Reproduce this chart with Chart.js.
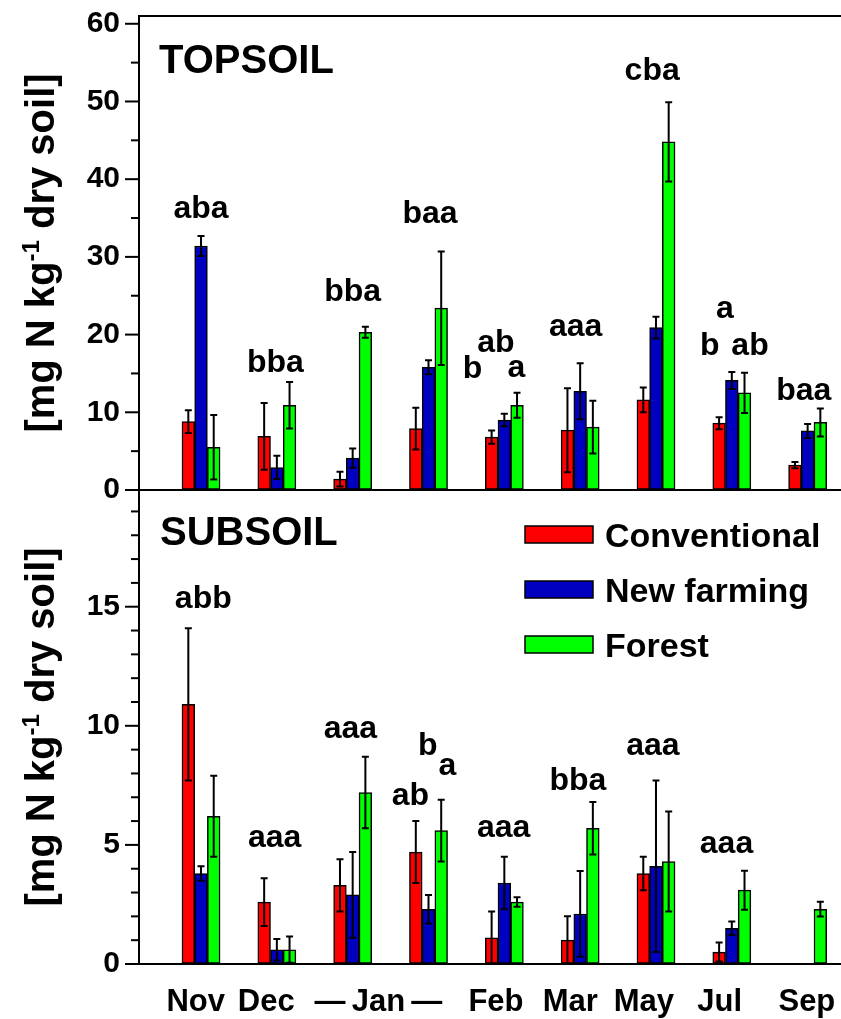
<!DOCTYPE html>
<html>
<head>
<meta charset="utf-8">
<script src="https://cdn.jsdelivr.net/npm/chart.js@4.4.1/dist/chart.umd.min.js"></script>
<style>
  html, body { margin: 0; padding: 0; background: #fff; }
</style>
</head>
<body>
<canvas id="soil-chart" width="841" height="1019"></canvas>
<script>
// categories (group positions) and month labels
const groupPos = [0, 1, 2, 3, 4, 5, 6, 7, 8];
const monthLabels = ['Nov', 'Dec', '\u2014\u2009Jan\u2009\u2014', 'Feb', 'Mar', 'May', 'Jul', 'Sep'];
const monthTickPos = [-0.07, 0.86, 2.34, 3.89, 4.87, 5.84, 6.84, 7.99];

const seriesNames = ['Conventional', 'New farming', 'Forest'];
const seriesColors = ['#ff0000', '#0000c0', '#00ff00'];

// topsoil values and errors
const topConv = [8.8, 6.9, 1.4, 7.9, 6.8, 7.7, 11.6, 8.6, 3.2];
const topConvErr = [1.45, 4.3, 0.95, 2.7, 0.85, 5.4, 1.6, 0.77, 0.4];
const topNew = [31.4, 2.9, 4.1, 15.8, 9.0, 12.7, 20.9, 14.1, 7.6];
const topNewErr = [1.3, 1.5, 1.25, 0.9, 0.8, 3.6, 1.4, 1.1, 0.9];
const topForest = [5.5, 10.9, 20.3, 23.4, 10.9, 8.1, 44.8, 12.5, 8.7];
const topForestErr = [4.15, 3.0, 0.7, 7.3, 1.6, 3.4, 5.1, 2.6, 1.8];

// subsoil values and errors
const subConv = [10.9, 2.6, 3.3, 4.7, 1.1, 1.0, 3.8, 0.5, null];
const subConvErr = [3.2, 1.0, 1.1, 1.3, 1.1, 1.0, 0.7, 0.4, null];
const subNew = [3.8, 0.6, 2.9, 2.3, 3.4, 2.1, 4.1, 1.5, null];
const subNewErr = [0.3, 0.45, 1.8, 0.6, 1.1, 1.8, 3.6, 0.28, null];
const subForest = [6.2, 0.6, 7.2, 5.6, 2.6, 5.7, 4.3, 3.1, 2.3];
const subForestErr = [1.7, 0.55, 1.5, 1.3, 0.2, 1.1, 2.1, 0.82, 0.31];

// significance letters (x in group units, y in data units = baseline)
const topNoteText = ['aba', 'bba', 'bba', 'baa', 'b', 'ab', 'a', 'aaa', 'cba', 'a', 'b', 'ab', 'baa'];
const topNoteX = [0, 0.98, 2.0, 3.02, 3.58, 3.89, 4.16, 4.94, 5.95, 6.91, 6.71, 7.24, 7.95];
const topNoteY = [35.0, 15.2, 24.3, 34.4, 14.4, 17.8, 14.6, 19.8, 52.7, 22.1, 17.35, 17.35, 11.6];
const subNoteText = ['abb', 'aaa', 'aaa', 'ab', 'b', 'a', 'aaa', 'bba', 'aaa', 'aaa'];
const subNoteX = [0.03, 0.97, 1.97, 2.76, 2.99, 3.25, 3.99, 4.97, 5.96, 6.93];
const subNoteY = [14.93, 4.92, 9.48, 6.67, 8.77, 7.93, 5.34, 7.3, 8.77, 4.64];

const FONT = "'Liberation Sans', Arial, Helvetica, sans-serif";

function makeSet(i, values, errors, axis) {
  return {
    label: seriesNames[i],
    data: values.map((v, k) => ({ x: groupPos[k], y: v })),
    errors: errors,
    yAxisID: axis,
    stack: 's' + i,
    backgroundColor: seriesColors[i],
    borderColor: '#000',
    borderWidth: 1.5,
    borderSkipped: false,
    barThickness: 12.7
  };
}

// error bars on top of the bars
const errorBars = {
  id: 'errorBars',
  afterDatasetsDraw(chart) {
    const ctx = chart.ctx;
    ctx.save();
    ctx.strokeStyle = '#000';
    ctx.lineWidth = 2;
    chart.data.datasets.forEach((ds, i) => {
      const meta = chart.getDatasetMeta(i);
      const scale = chart.scales[ds.yAxisID];
      ds.data.forEach((pt, j) => {
        const e = ds.errors[j];
        if (pt.y === null || e === null || !meta.data[j]) return;
        const x = meta.data[j].x;
        const yHi = scale.getPixelForValue(pt.y + e);
        const yLo = scale.getPixelForValue(Math.max(pt.y - e, 0));
        ctx.beginPath();
        ctx.moveTo(x, yHi); ctx.lineTo(x, yLo);
        ctx.moveTo(x - 3.5, yHi); ctx.lineTo(x + 3.5, yHi);
        ctx.moveTo(x - 3.5, yLo); ctx.lineTo(x + 3.5, yLo);
        ctx.stroke();
      });
    });
    ctx.restore();
  }
};

// frame lines, tick marks, titles, letters, legend
const decorations = {
  id: 'decorations',
  afterDraw(chart) {
    const ctx = chart.ctx;
    const area = chart.chartArea;
    const yTop = chart.scales.yTop;
    const yBottom = chart.scales.yBottom;
    const xs = chart.scales.x;
    ctx.save();
    ctx.strokeStyle = '#000';
    ctx.lineWidth = 2;
    ctx.beginPath();
    ctx.moveTo(area.left, area.top); ctx.lineTo(area.right, area.top);
    ctx.moveTo(area.left, yTop.bottom); ctx.lineTo(area.right, yTop.bottom);
    ctx.stroke();

    // tick marks
    [[yTop, 10], [yBottom, 5]].forEach(([scale, major]) => {
      scale.ticks.forEach(t => {
        const y = scale.getPixelForValue(t.value);
        const len = t.value % major === 0 ? 14 : 8;
        ctx.beginPath();
        ctx.moveTo(area.left - len, y); ctx.lineTo(area.left, y);
        ctx.stroke();
      });
    });

    ctx.fillStyle = '#000';
    // panel names
    ctx.font = 'bold 40px ' + FONT;
    ctx.textAlign = 'left';
    ctx.textBaseline = 'alphabetic';
    ctx.fillText('TOPSOIL', 159, 73);
    ctx.fillText('SUBSOIL', 160, 545);

    // y axis titles
    [yTop, yBottom].forEach(scale => {
      const cy = (scale.top + scale.bottom) / 2;
      const p1 = '[mg N kg', sup = '-1', p2 = ' dry soil]';
      ctx.font = 'bold 40px ' + FONT;
      const w1 = ctx.measureText(p1).width, w2 = ctx.measureText(p2).width;
      ctx.font = 'bold 24px ' + FONT;
      const ws = ctx.measureText(sup).width;
      const total = w1 + ws + w2;
      ctx.save();
      ctx.translate(54, cy);
      ctx.rotate(-Math.PI / 2);
      ctx.textAlign = 'left';
      ctx.font = 'bold 40px ' + FONT;
      ctx.fillText(p1, -total / 2, 0);
      ctx.font = 'bold 24px ' + FONT;
      ctx.fillText(sup, -total / 2 + w1, -15);
      ctx.font = 'bold 40px ' + FONT;
      ctx.fillText(p2, -total / 2 + w1 + ws, 0);
      ctx.restore();
    });

    // significance letters
    ctx.font = 'bold 32px ' + FONT;
    ctx.textAlign = 'center';
    topNoteText.forEach((t, i) => {
      ctx.fillText(t, xs.getPixelForValue(topNoteX[i]), yTop.getPixelForValue(topNoteY[i]));
    });
    subNoteText.forEach((t, i) => {
      ctx.fillText(t, xs.getPixelForValue(subNoteX[i]), yBottom.getPixelForValue(subNoteY[i]));
    });

    // legend
    ctx.font = 'bold 34px ' + FONT;
    ctx.textAlign = 'left';
    seriesNames.forEach((name, i) => {
      const base = 547 + i * 55;
      ctx.fillStyle = seriesColors[i];
      ctx.fillRect(525, base - 21, 68, 17);
      ctx.lineWidth = 1.5;
      ctx.strokeRect(525, base - 21, 68, 17);
      ctx.fillStyle = '#000';
      ctx.fillText(name, 605, base);
    });
    ctx.restore();
  }
};

const yCommon = {
  type: 'linear',
  position: 'left',
  stack: 'panels',
  stackWeight: 1,
  stacked: false,
  min: 0,
  grid: { drawOnChartArea: false, drawTicks: true, tickLength: 14, tickColor: 'rgba(0,0,0,0)' },
  border: { display: true, color: '#000', width: 2 },
  afterFit(scale) { scale.width = 139; scale.paddingTop = 0; scale.paddingBottom = 0; }
};

new Chart(document.getElementById('soil-chart'), {
  type: 'bar',
  data: {
    datasets: [
      makeSet(0, topConv, topConvErr, 'yTop'),
      makeSet(1, topNew, topNewErr, 'yTop'),
      makeSet(2, topForest, topForestErr, 'yTop'),
      makeSet(0, subConv, subConvErr, 'yBottom'),
      makeSet(1, subNew, subNewErr, 'yBottom'),
      makeSet(2, subForest, subForestErr, 'yBottom')
    ]
  },
  options: {
    responsive: false,
    animation: false,
    devicePixelRatio: 1,
    events: [],
    layout: { padding: { top: 16, left: 0, right: 0, bottom: 0 } },
    plugins: { legend: { display: false }, tooltip: { enabled: false } },
    scales: {
      x: {
        type: 'linear',
        offset: false,
        min: -0.818,
        max: 8.44,
        grid: { display: false, drawTicks: false, offset: false },
        border: { display: true, color: '#000', width: 2 },
        afterBuildTicks(scale) { scale.ticks = monthTickPos.map(v => ({ value: v })); },
        afterFit(scale) { scale.height = 55; scale.paddingLeft = 0; scale.paddingRight = 0; },
        ticks: {
          autoSkip: false, maxRotation: 0, minRotation: 0, padding: 20, color: '#000',
          font: { family: FONT, size: 31, weight: 'bold' },
          callback: (v, i) => monthLabels[i]
        }
      },
      yBottom: Object.assign({}, yCommon, {
        max: 19.9,
        ticks: {
          stepSize: 1, includeBounds: false, autoSkip: false, padding: 5, color: '#000',
          font: { family: FONT, size: 30, weight: 'bold' },
          callback: v => (v % 5 === 0 ? v : '')
        }
      }),
      yTop: Object.assign({}, yCommon, {
        max: 61,
        ticks: {
          stepSize: 5, includeBounds: false, autoSkip: false, padding: 5, color: '#000',
          font: { family: FONT, size: 30, weight: 'bold' },
          callback: v => (v % 10 === 0 ? v : '')
        }
      })
    }
  },
  plugins: [errorBars, decorations]
});
</script>
</body>
</html>
